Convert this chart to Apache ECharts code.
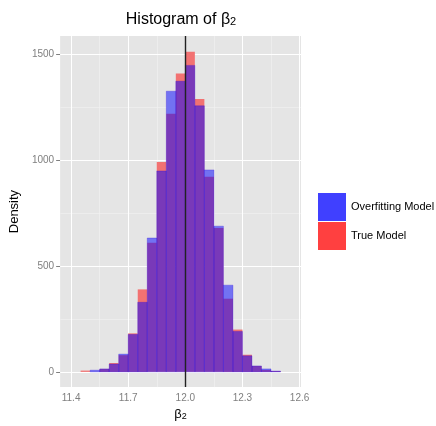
<!DOCTYPE html>
<html>
<head>
<meta charset="utf-8">
<script src="https://cdn.jsdelivr.net/npm/echarts@6/dist/echarts.min.js"></script>
<style>
  html, body { margin: 0; padding: 0; background: #fff; }
  #chart { width: 436px; height: 426px; }
</style>
</head>
<body>
<div id="chart"></div>
<script>
// histogram bins (left edges), width 0.05
const binStarts = [11.45, 11.50, 11.55, 11.60, 11.65, 11.70, 11.75, 11.80, 11.85, 11.90, 11.95,
  12.00, 12.05, 12.10, 12.15, 12.20, 12.25, 12.30, 12.35, 12.40, 12.45]
const binWidth = 0.05
const trueModel = [6, 0, 14, 42, 79, 182, 390, 610, 992, 1220, 1411,
  1514, 1290, 922, 680, 346, 200, 81, 28, 9, 4]
const overfitModel = [0, 8, 14, 37, 84, 177, 329, 633, 950, 1327, 1374,
  1449, 1258, 955, 689, 410, 191, 76, 28, 14, 4]
const xTicks = [11.4, 11.7, 12.0, 12.3, 12.6]
const xMinor = [11.55, 11.85, 12.15, 12.45]
const yTicks = [0, 500, 1000, 1500]
const yMinor = [250, 750, 1250]
const trueValue = 12.0

const chart = echarts.init(document.getElementById('chart'))

const panelColor = '#e5e5e5'

// [start, end, value, other] - "other" lets the first layer hide the grid under both bars
const toBins = (vals, other) => binStarts.map((s, i) => [s, s + binWidth, vals[i], other ? other[i] : 0])

const rectBetween = (api, x0, x1, v, style) => {
  const p0 = api.coord([x0, v])
  const p1 = api.coord([x1, 0])
  return {
    type: 'rect',
    shape: { x: p0[0], y: p0[1], width: p1[0] - p0[0], height: p1[1] - p0[1] },
    style: style
  }
}

const histItem = (style, backing) => (params, api) => {
  const x0 = api.value(0), x1 = api.value(1)
  const children = []
  if (backing) {
    const top = Math.max(api.value(2), api.value(3))
    if (top > 0) children.push(rectBetween(api, x0, x1, top, { fill: panelColor }))
  }
  if (api.value(2) > 0) children.push(rectBetween(api, x0, x1, api.value(2), style))
  return { type: 'group', children: children }
}

const gridLine = (axis, v, major) => ({
  [axis]: v,
  lineStyle: { color: major ? '#ffffff' : '#f2f2f2', width: major ? 1 : 0.6, type: 'solid' }
})

const axisLabelStyle = { color: '#7f7f7f', fontSize: 10, fontFamily: 'Liberation Sans' }

chart.setOption({
  animation: false,
  grid: {
    left: 60, top: 36, width: 241, height: 356,
    show: true, backgroundColor: panelColor, borderWidth: 0
  },
  graphic: [{
    type: 'text',
    x: 181, y: 22,
    style: {
      text: '{a|Histogram of β}{s|2}', textAlign: 'center', textVerticalAlign: 'middle',
      rich: {
        a: { fontSize: 16, fontFamily: 'Liberation Sans', fill: '#000', padding: [0, 0, 5, 0] },
        s: { fontSize: 11, fontFamily: 'Liberation Sans', fill: '#000' }
      }
    }
  }],
  legend: {
    orient: 'vertical', left: 318, top: 193, padding: 0,
    itemWidth: 28, itemHeight: 28, itemGap: 1,
    icon: 'rect',
    textStyle: { color: '#000', fontSize: 11, fontFamily: 'Liberation Sans' },
    data: [
      { name: 'Overfitting Model', itemStyle: { color: '#4040ff' } },
      { name: 'True Model', itemStyle: { color: '#ff4040' } }
    ]
  },
  xAxis: {
    type: 'value', min: 11.3425, max: 12.6075,
    name: '{a|β}{s|2}', nameLocation: 'middle', nameGap: 20,
    nameTextStyle: {
      rich: {
        a: { fontSize: 13, fontFamily: 'Liberation Sans', color: '#000', padding: [0, 0, 4, 0] },
        s: { fontSize: 9, fontFamily: 'Liberation Sans', color: '#000' }
      }
    },
    axisLine: { show: false },
    axisTick: { show: true, length: 4, customValues: xTicks, lineStyle: { color: '#7f7f7f' } },
    axisLabel: { customValues: xTicks, margin: 6, formatter: v => v.toFixed(1), ...axisLabelStyle },
    splitLine: { show: false }
  },
  yAxis: {
    type: 'value', min: -72, max: 1588,
    name: 'Density', nameLocation: 'middle', nameGap: 31, nameRotate: 90,
    nameTextStyle: { color: '#000', fontSize: 13, fontFamily: 'Liberation Sans' },
    axisLine: { show: false },
    axisTick: { show: true, length: 4, customValues: yTicks, lineStyle: { color: '#7f7f7f' } },
    axisLabel: { customValues: yTicks, margin: 6, formatter: v => String(v), ...axisLabelStyle },
    splitLine: { show: false }
  },
  series: [
    {
      name: 'grid', type: 'line', data: [], z: 1, silent: true,
      markLine: {
        z: 1,
        silent: true, symbol: 'none', label: { show: false }, animation: false,
        data: [
          ...xMinor.map(v => gridLine('xAxis', v, false)),
          ...yMinor.map(v => gridLine('yAxis', v, false)),
          ...xTicks.map(v => gridLine('xAxis', v, true)),
          ...yTicks.map(v => gridLine('yAxis', v, true))
        ]
      }
    },
    {
      name: 'True Model', type: 'custom', z: 2,
      renderItem: histItem({ fill: 'rgba(255,0,0,0.5)' }, true),
      encode: { x: [0, 1], y: 2 },
      data: toBins(trueModel, overfitModel)
    },
    {
      name: 'Overfitting Model', type: 'custom', z: 3,
      renderItem: histItem({ fill: 'rgba(0,0,255,0.5)', stroke: 'rgba(40,0,220,0.45)', lineWidth: 0.6 }, false),
      encode: { x: [0, 1], y: 2 },
      data: toBins(overfitModel)
    },
    {
      name: 'truth', type: 'line', data: [], z: 4, silent: true,
      markLine: {
        z: 6,
        silent: true, symbol: 'none', label: { show: false }, animation: false,
        lineStyle: { color: '#222', width: 1.4, type: 'solid' },
        data: [{ xAxis: trueValue }]
      }
    }
  ]
})
</script>
</body>
</html>
